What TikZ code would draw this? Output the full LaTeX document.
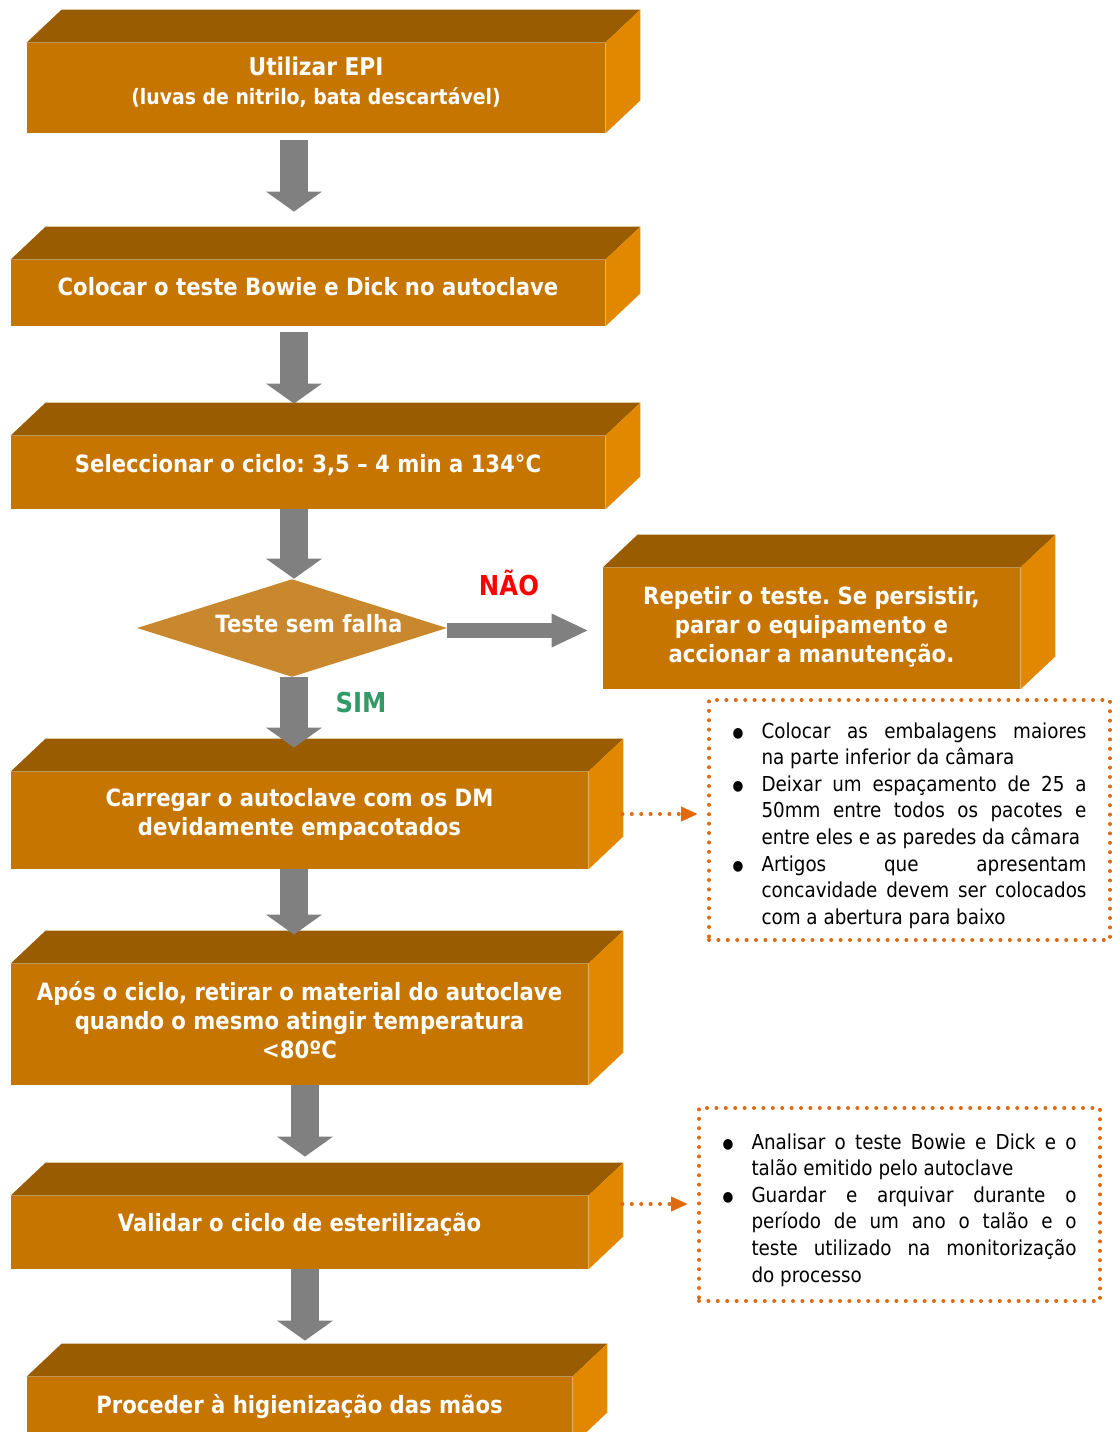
\documentclass[tikz,border=0pt]{standalone}
\usepackage{fontspec}
\setmainfont{DejaVu Sans}[FakeStretch=0.89]
\usetikzlibrary{shapes.geometric,arrows.meta}
\frenchspacing

\definecolor{frontcol}{HTML}{C57500}
\definecolor{topcol}{HTML}{9A5C00}
\definecolor{sidecol}{HTML}{E18800}
\definecolor{rhombcol}{HTML}{C9882E}
\definecolor{arrowgray}{HTML}{808080}
\definecolor{dotcol}{HTML}{E06A10}
\definecolor{simcol}{HTML}{339966}

\newcommand{\titlefont}{\bfseries\fontsize{11.9}{14.5}\selectfont}
\newcommand{\notefont}{\fontsize{10.3}{13.3}\selectfont}
\newcommand{\bitem}[1]{\par\noindent\hangindent=14.5pt\hangafter=1\hbox to 14.5pt{\raisebox{0.4pt}{\fontsize{7}{8}\selectfont ●}\hfil}#1\par}

\tikzset{
  stepbox/.style={rectangle, fill=frontcol, text=white, inner sep=0pt, align=center, font=\titlefont, text depth=7pt},
  testbox/.style={diamond, aspect=3.17, fill=rhombcol, text=white, inner sep=0pt, font=\titlefont, text depth=5pt},
  notebox/.style={rectangle, draw=dotcol, line width=2pt, line cap=round, dash pattern=on 0pt off 4.7pt, inner sep=0pt, align=justify, font=\notefont, text=black},
  downarrow/.style={draw=arrowgray, line width=14pt, -{Triangle[width=27.5pt,length=10pt]}},
  sidearrow/.style={draw=arrowgray, line width=7.5pt, -{Triangle[width=15.5pt,length=18.5pt]}},
  dotlink/.style={draw=dotcol, line width=2pt, line cap=round, dash pattern=on 0pt off 4.7pt, -{Triangle[width=7pt,length=8.5pt]}, shorten >=4.5pt},
}

\begin{document}
\begin{tikzpicture}[x=0.5pt, y=-0.5pt]
\useasboundingbox (0,0) rectangle (1120,1432);
\clip (0,0) rectangle (1120,1432);

% steps (front faces):
\node[stepbox, minimum width=289pt, minimum height=45pt] (epi) at (316,88)
  {{\fontsize{12.2}{13.5}\selectfont Utilizar EPI}\\{\fontsize{10.6}{13.5}\selectfont (luvas de nitrilo, bata descartável)}};
\node[stepbox, minimum width=297pt, minimum height=33pt] (bowie) at (308,293) {Colocar o teste Bowie e Dick no autoclave};
\node[stepbox, minimum width=297pt, minimum height=36.5pt, text depth=9pt] (ciclo) at (308,472.5) {Seleccionar o ciclo: 3,5 – 4 min a 134°C};
\node[testbox, minimum width=152pt, minimum height=48pt] (teste) at (292,628) {\hspace*{17pt}Teste sem falha};
\node[stepbox, minimum width=208.5pt, minimum height=60.5pt, text depth=4pt] (repetir) at (811.5,628.5)
  {Repetir o teste. Se persistir,\\ parar o equipamento e\\ accionar a manutenção.};
\node[stepbox, minimum width=288.5pt, minimum height=48.5pt, text depth=9pt] (carregar) at (299.5,820.5)
  {Carregar o autoclave com os DM\\ devidamente empacotados};
\node[stepbox, minimum width=288.5pt, minimum height=60.5pt, text depth=4.5pt] (retirar) at (299.5,1024.5)
  {Após o ciclo, retirar o material do autoclave\\ quando o mesmo atingir temperatura\\ <80ºC};
\node[stepbox, minimum width=288.5pt, minimum height=36.5pt, text depth=10pt] (validar) at (299.5,1232.5) {Validar o ciclo de esterilização};
\node[stepbox, minimum width=272.5pt, minimum height=34pt] (maos) at (299.5,1411) {Proceder à higienização das mãos};

% top and side faces:
\foreach \b in {epi,bowie,ciclo,repetir,carregar,retirar,validar,maos}{
  \fill[topcol] (\b.north west) -- ++(35,-33) -- ([shift={(35,-33)}]\b.north east) -- (\b.north east) -- cycle;
  \fill[sidecol] (\b.north east) -- ++(35,-33) -- ([shift={(35,-33)}]\b.south east) -- (\b.south east) -- cycle;
}

% notes:
\node[notebox, minimum width=200.5pt, minimum height=120pt, text width=177pt] (cargas) at (909.5,820) {%
  \bitem{Colocar as embalagens maiores\linebreak na parte inferior da câmara}%
  \bitem{Deixar um espaçamento de 25 a\linebreak 50mm entre todos os pacotes e\linebreak entre eles e as paredes da câmara}%
  \bitem{Artigos que apresentam\linebreak concavidade devem ser colocados\linebreak com a abertura para baixo}};
\node[notebox, minimum width=200.5pt, minimum height=96.5pt, text width=177pt] (registo) at (899.5,1204.5) {%
  \bitem{Analisar o teste Bowie e Dick e o\linebreak talão emitido pelo autoclave}%
  \bitem{Guardar e arquivar durante o\linebreak período de um ano o talão e o\linebreak teste utilizado na monitorização\linebreak do processo}};

% arrows between steps:
\coordinate (axis) at (294,0);
\coordinate (axisb) at (305,0);
\draw[downarrow, shorten <=3.5pt, shorten >=24pt] (epi.south -| axis) -- (bowie.north -| axis);
\draw[downarrow, shorten <=3pt, shorten >=16pt] (bowie.south -| axis) -- (ciclo.north -| axis);
\draw[downarrow] (ciclo.south -| axis) -- (teste.north -| axis);
\draw[downarrow, shorten >=12pt] (teste.south -| axis) -- (carregar.north -| axis);
\draw[downarrow, shorten >=14.5pt] (carregar.south -| axis) -- (retirar.north -| axis);
\draw[downarrow, shorten >=19.5pt] (retirar.south -| axisb) -- (validar.north -| axisb);
\draw[downarrow, shorten >=18pt] (validar.south -| axisb) -- (maos.north -| axisb);
\draw[sidearrow, shorten >=7pt] ([yshift=-1.25pt]teste.east) -- ([yshift=-1pt]repetir.west);

\node[font=\bfseries\fontsize{13.7}{14}\selectfont, text=red] (nao) at (509,583) {NÃO};
\node[font=\bfseries\fontsize{13.7}{14}\selectfont, text=simcol] (sim) at (361,703) {SIM};

% dotted links to the notes:
\draw[dotlink] ([xshift=17pt,yshift=3.25pt]carregar.east) coordinate (c1) -- (c1 -| cargas.west);
\draw[dotlink] ([xshift=17pt,yshift=14.25pt]validar.east) coordinate (c2) -- (c2 -| registo.west);
\end{tikzpicture}
\end{document}
